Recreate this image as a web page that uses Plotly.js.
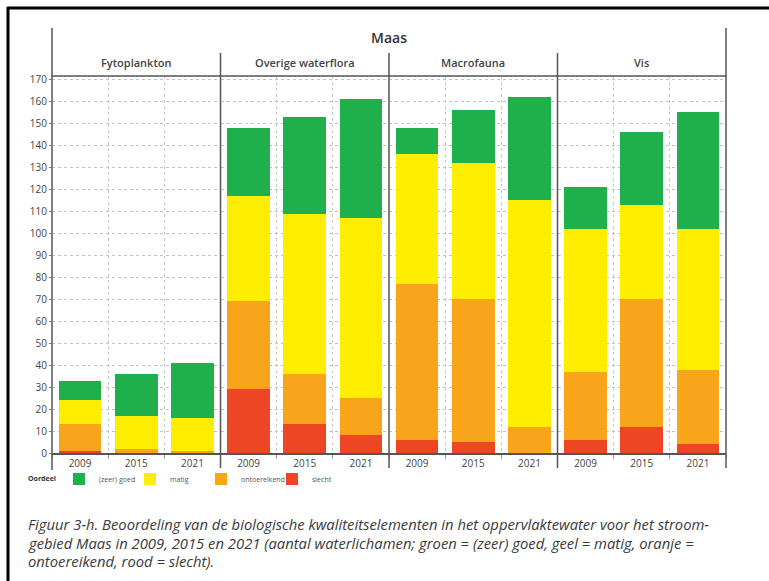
<!DOCTYPE html>
<html>
<head>
<meta charset="utf-8">
<script src="https://cdn.plot.ly/plotly-3.0.1.min.js"></script>
<style>
html,body{margin:0;padding:0;background:#fff;}
#chart{width:769px;height:581px;}
</style>
</head>
<body>
<div id="chart"></div>
<script>
// ---- data ----
const groups = ['Fytoplankton', 'Overige waterflora', 'Macrofauna', 'Vis'];
const years = ['2009', '2015', '2021'];
// values per group, per year
const slecht       = [[1, 0, 0], [29, 13, 8], [6, 5, 0], [6, 12, 4]];
const ontoereikend = [[12, 2, 1], [40, 23, 17], [71, 65, 12], [31, 58, 34]];
const matig        = [[11, 15, 15], [48, 73, 82], [59, 62, 103], [65, 43, 64]];
const zeerGoed     = [[9, 19, 25], [31, 44, 54], [12, 24, 47], [19, 33, 53]];
const levelNames = ['slecht', 'ontoereikend', 'matig', '(zeer) goed'];
const levelColors = ['#ee4524', '#f8a51b', '#ffed00', '#20b04b'];
const yTicks = [0, 10, 20, 30, 40, 50, 60, 70, 80, 90, 100, 110, 120, 130, 140, 150, 160, 170];
const chartTitle = 'Maas';
const legendTitle = 'Oordeel';
const captionLines = [
  'Figuur 3-h. Beoordeling van de biologische kwaliteitselementen in het oppervlaktewater voor het stroom-',
  'gebied Maas in 2009, 2015 en 2021 (aantal waterlichamen; groen = (zeer) goed, geel = matig, oranje =',
  'ontoereikend, rood = slecht).'
];

const levels = [slecht, ontoereikend, matig, zeerGoed];
const FONT = 'Open Sans, Noto Sans, sans-serif';

// ---- traces ----
const traces = [];
levels.forEach((lv, li) => {
  groups.forEach((g, gi) => {
    traces.push({
      type: 'bar',
      name: levelNames[li],
      legendgroup: levelNames[li],
      showlegend: gi === 0,
      x: years,
      y: lv[gi],
      xaxis: gi === 0 ? 'x' : 'x' + (gi + 1),
      yaxis: 'y',
      marker: {color: levelColors[li], line: {width: 0}},
      hoverinfo: 'x+y+name'
    });
  });
});

// ---- layout ----
const L = 52, R = 726, T = 76, B = 453;
const W = R - L, H = B - T;
const px = v => (v - L) / W;       // pixel x -> paper
const py = v => (B - v) / H;       // pixel y -> paper

const layout = {
  width: 769, height: 581,
  margin: {l: L, r: 769 - R, t: T, b: 581 - B, pad: 0},
  paper_bgcolor: '#fff', plot_bgcolor: '#fff',
  barmode: 'stack', bargap: 0.24,
  font: {family: FONT, color: '#333'},
  showlegend: true,
  legend: {
    orientation: 'h', x: px(59), xanchor: 'left', y: py(479), yanchor: 'middle',
    traceorder: 'reversed',
    font: {size: 7, color: '#555', family: FONT},
    entrywidth: 26,
    bgcolor: 'rgba(0,0,0,0)'
  },
  yaxis: {
    range: [0, 171.6], tickvals: yTicks, ticktext: yTicks.map(String),
    showgrid: true, gridcolor: '#c2c2c2', griddash: 'dot', gridwidth: 1,
    zeroline: false, showline: false,
    ticks: 'outside', ticklen: 2, tickcolor: '#777',
    tickfont: {size: 10, color: '#444', family: FONT},
    fixedrange: true
  },
  annotations: [],
  shapes: []
};

groups.forEach((g, gi) => {
  const key = gi === 0 ? 'xaxis' : 'xaxis' + (gi + 1);
  layout[key] = {
    domain: [gi / groups.length, (gi + 1) / groups.length],
    anchor: 'y', type: 'category', categoryorder: 'array', categoryarray: years,
    tickson: 'boundaries', ticks: 'outside', ticklen: 4, tickcolor: '#999',
    showgrid: true, gridcolor: '#c8c8c8', griddash: 'dot', gridwidth: 1,
    showline: true, linecolor: '#555', linewidth: 1.5,
    tickfont: {size: 10, color: '#444', family: FONT},
    fixedrange: true
  };
  layout.annotations.push({
    text: g, xref: 'paper', yref: 'paper',
    x: (gi + 0.5) / groups.length, y: py(62), xanchor: 'center', yanchor: 'middle',
    showarrow: false, font: {size: 11, color: '#444', family: FONT, weight: 600}
  });
  if (gi > 0) {
    layout.shapes.push({type: 'line', xref: 'paper', yref: 'paper',
      x0: gi / groups.length, x1: gi / groups.length, y0: py(468), y1: py(53),
      line: {color: '#555', width: 1.5}});
  }
});

// title
layout.annotations.push({
  text: chartTitle, xref: 'paper', yref: 'paper', x: 0.5, y: py(38),
  xanchor: 'center', yanchor: 'middle', showarrow: false,
  font: {size: 14, color: '#333', family: FONT, weight: 600}
});
// legend title
layout.annotations.push({
  text: '<b>' + legendTitle + '</b>', xref: 'paper', yref: 'paper', x: px(26), y: py(479),
  xanchor: 'left', yanchor: 'middle', showarrow: false,
  font: {size: 7, color: '#333', family: FONT}
});
// caption
captionLines.forEach((t, i) => {
  layout.annotations.push({
    text: t, xref: 'paper', yref: 'paper', x: px(26), y: py(524 + i * 18.5),
    xanchor: 'left', yanchor: 'middle', showarrow: false, align: 'left',
    font: {size: 14.8, color: '#3a3a3a', family: FONT, style: 'italic'}
  });
});

// structural lines
layout.shapes.push(
  {type: 'line', xref: 'paper', yref: 'paper', x0: 0, x1: 0, y0: py(470), y1: py(28), line: {color: '#555', width: 1.5}},
  {type: 'line', xref: 'paper', yref: 'paper', x0: 1, x1: 1, y0: py(468), y1: py(28), line: {color: '#555', width: 1.5}},
  {type: 'line', xref: 'paper', yref: 'paper', x0: 0, x1: 1, y0: 1, y1: 1, line: {color: '#555', width: 1.5}},
  // outer frame
  {type: 'line', xref: 'paper', yref: 'paper', x0: px(8), x1: px(8), y0: py(600), y1: py(7), line: {color: '#000', width: 3}},
  {type: 'line', xref: 'paper', yref: 'paper', x0: px(7), x1: px(800), y0: py(8), y1: py(8), line: {color: '#000', width: 3}}
);

Plotly.newPlot('chart', traces, layout, {displayModeBar: false, staticPlot: true});
</script>
</body>
</html>
